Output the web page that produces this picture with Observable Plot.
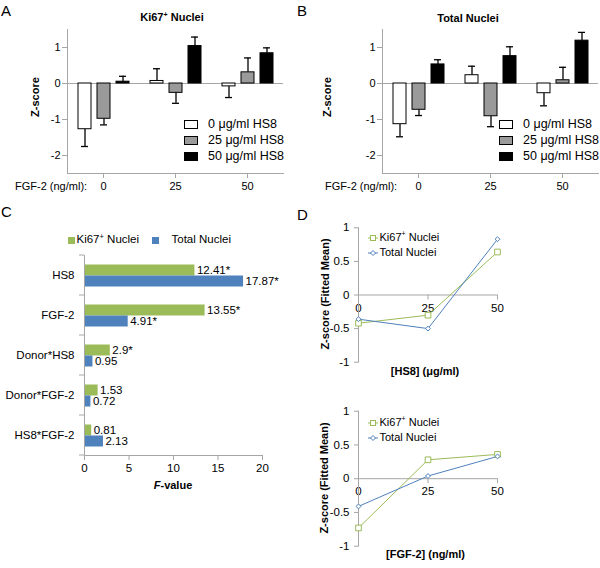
<!DOCTYPE html>
<html><head><meta charset="utf-8">
<script src="https://cdn.jsdelivr.net/npm/d3@7"></script>
<script src="https://cdn.jsdelivr.net/npm/@observablehq/plot@0.6"></script>
<style>
body{margin:0;background:#fff;font-family:"Liberation Sans",Arial,sans-serif;}
#root{position:relative;width:600px;height:568px;overflow:hidden;background:#fff;}
.lbl{position:absolute;white-space:nowrap;font-size:11px;color:#000;line-height:1;}
.panel{position:absolute;}
.panel svg text{fill:#000;}
sup{font-size:65%;vertical-align:baseline;position:relative;top:-0.55em;}
</style></head><body><div id="root"></div>
<script>
// ---------- DATA ----------
const fgfGroups = ["0", "25", "50"];           // FGF-2 (ng/ml)
const hs8Series = ["0", "25", "50"];           // HS8 (µg/ml)
const hs8Names = ["0 μg/ml HS8", "25 μg/ml HS8", "50 μg/ml HS8"];
const abTicks = [-2, -1, 0, 1];

// Panel A: Ki67+ nuclei z-scores, per HS8 level, across FGF-2 groups
const kiHs0 = [-1.27, 0.07, -0.08];
const kiHs25 = [-0.98, -0.26, 0.31];
const kiHs50 = [0.05, 1.04, 0.84];
const kiErrHs0 = [0.48, 0.34, 0.31];
const kiErrHs25 = [0.17, 0.29, 0.40];
const kiErrHs50 = [0.15, 0.25, 0.15];

// Panel B: Total nuclei z-scores
const totHs0 = [-1.13, 0.23, -0.27];
const totHs25 = [-0.73, -0.91, 0.09];
const totHs50 = [0.53, 0.76, 1.19];
const totErrHs0 = [0.35, 0.25, 0.35];
const totErrHs25 = [0.16, 0.29, 0.36];
const totErrHs50 = [0.13, 0.26, 0.23];

// Panel C: F-values
const cTerms = ["HS8", "FGF-2", "Donor*HS8", "Donor*FGF-2", "HS8*FGF-2"];
const cSeries = ["Ki67+ Nuclei", "Total Nuclei"];
const cKi = [12.41, 13.55, 2.9, 1.53, 0.81];
const cTot = [17.87, 4.91, 0.95, 0.72, 2.13];
const cKiSig = [true, true, true, false, false];
const cTotSig = [true, true, false, false, false];
const cTicks = [0, 5, 10, 15, 20];

// Panel D: fitted means
const dLevels = [0, 25, 50];
const dTicksY = [-1, -0.5, 0, 0.5, 1];
const dHs8Ki = [-0.42, -0.30, 0.64];
const dHs8Tot = [-0.36, -0.50, 0.83];
const dFgfKi = [-0.73, 0.28, 0.36];
const dFgfTot = [-0.41, 0.04, 0.33];

// ---------- STYLE ----------
const GREEN = "#9bbb59", BLUE = "#4f81bd", GRAY = "#a6a6a6";
const FONT = "'Liberation Sans', Arial, sans-serif";
const hs8Fills = ["#ffffff", "#9a9a9a", "#000000"];
const root = document.getElementById("root");

function mount(node, left, top, w, h) {
  const d = document.createElement("div");
  d.className = "panel";
  d.style.left = left + "px"; d.style.top = top + "px";
  d.style.width = w + "px"; d.style.height = h + "px";
  d.appendChild(node); root.appendChild(d);
}
function label(html, x, y, o = {}) {
  const d = document.createElement("div");
  d.className = "lbl";
  d.innerHTML = html;
  d.style.left = x + "px"; d.style.top = y + "px";
  d.style.fontSize = (o.size || 11) + "px";
  if (o.bold) d.style.fontWeight = "bold";
  const tx = o.anchor === "middle" ? "-50%" : o.anchor === "end" ? "-100%" : "0";
  d.style.transform = `translate(${tx},-50%)` + (o.rotate ? " rotate(-90deg)" : "");
  root.appendChild(d);
}

// ---------- PANELS A & B ----------
function abRows(means, errs) {
  const out = [];
  hs8Series.forEach((s, si) => fgfGroups.forEach((g, gi) => {
    const v = means[si][gi], e = errs[si][gi];
    out.push({fgf: g, hs8: s, v, end: v + (v >= 0 ? e : -e)});
  }));
  return out;
}
function barPanel(rows, marginLeft, marginRight) {
  return Plot.plot({
    width: 300, height: 200, marginLeft, marginRight, marginTop: 29, marginBottom: 27,
    style: {fontFamily: FONT, fontSize: "11px", color: GRAY, background: "transparent", overflow: "visible"},
    fx: {domain: fgfGroups, padding: 0, axis: null},
    x: {domain: hs8Series, paddingInner: 0.316, paddingOuter: 0.55, axis: null},
    y: {domain: [-2.5, 1.5], axis: null},
    color: {domain: hs8Series, range: hs8Fills},
    marks: [
      Plot.frame({anchor: "bottom", stroke: GRAY}),
      Plot.ruleY([0], {stroke: GRAY, strokeWidth: 1.2}),
      Plot.ruleX(rows, {fx: "fgf", x: "hs8", y1: "v", y2: "end", stroke: "#000", strokeWidth: 1.3}),
      Plot.tickY(rows, {fx: "fgf", x: "hs8", y: "end", stroke: "#000", strokeWidth: 1.3, insetLeft: 3, insetRight: 3}),
      Plot.barY(rows, {fx: "fgf", x: "hs8", y1: () => 0, y2: "v", fill: "hs8", stroke: "#000", strokeWidth: 1}),
      Plot.frame({anchor: "left", facetAnchor: "left", stroke: GRAY}),
      Plot.axisY({ticks: abTicks, tickSize: 5, tickPadding: 2, tickFormat: d => String(d), stroke: GRAY, label: null}),
      Plot.axisFx({anchor: "bottom", tickSize: 5, tickPadding: 4, stroke: GRAY, label: null})
    ]
  });
}
const rowsA = abRows([kiHs0, kiHs25, kiHs50], [kiErrHs0, kiErrHs25, kiErrHs50]);
const rowsB = abRows([totHs0, totHs25, totHs50], [totErrHs0, totErrHs25, totErrHs50]);
mount(barPanel(rowsA, 67, 17), 0, 0, 300, 200);
mount(barPanel(rowsB, 82, 2), 300, 0, 300, 200);

function abLegend(boxX, textX) {
  hs8Names.forEach((n, i) => {
    const y = 124 + i * 16;
    const b = document.createElement("div");
    b.style.cssText = `position:absolute;left:${boxX}px;top:${y - 4}px;width:12px;height:7px;border:1px solid #000;background:${hs8Fills[i]};`;
    root.appendChild(b);
    label(n, textX, y, {size: 12.5});
  });
}
abLegend(184, 208);
abLegend(499, 523);

label("Ki67<sup>+</sup> Nuclei", 172, 18, {bold: true, anchor: "middle", size: 11});
label("Total Nuclei", 468, 18, {bold: true, anchor: "middle", size: 11});
label("Z-score", 35, 97, {bold: true, anchor: "middle", rotate: true});
label("Z-score", 327, 97, {bold: true, anchor: "middle", rotate: true});
label("FGF-2 (ng/ml):", 15, 186);
label("FGF-2 (ng/ml):", 325, 186);

// ---------- PANEL C ----------
const cRows = [];
cTerms.forEach((t, i) => {
  cRows.push({term: t, series: cSeries[0], value: cKi[i], label: String(cKi[i]) + (cKiSig[i] ? "*" : "")});
  cRows.push({term: t, series: cSeries[1], value: cTot[i], label: String(cTot[i]) + (cTotSig[i] ? "*" : "")});
});
const chartC = Plot.plot({
  width: 300, height: 250, marginLeft: 84, marginRight: 38, marginTop: 9.5, marginBottom: 39,
  style: {fontFamily: FONT, fontSize: "11px", color: GRAY, background: "transparent", overflow: "visible"},
  fy: {domain: cTerms, padding: 0, axis: null},
  y: {domain: cSeries, paddingInner: 0, paddingOuter: 0.77, axis: null},
  x: {domain: [0, 20], axis: null},
  color: {domain: cSeries, range: [GREEN, BLUE]},
  marks: [
    Plot.barX(cRows, {fy: "term", y: "series", x1: () => 0, x2: "value", fill: "series"}),
    Plot.text(cRows, {fy: "term", y: "series", x: "value", text: "label", textAnchor: "start", dx: 2, fill: "#000", fontSize: 11.5}),
    Plot.frame({anchor: "left", stroke: GRAY}),
    Plot.frame({anchor: "bottom", facetAnchor: "bottom", stroke: GRAY}),
    Plot.axisX({ticks: cTicks, tickSize: 5, tickPadding: 3, tickFormat: d => String(d), stroke: GRAY, label: null, fontSize: 11.5}),
    Plot.axisFy({anchor: "left", tickSize: 0, tickPadding: 10, label: null, fontSize: 11.5})
  ]
});
// band-edge separator ticks on the category axis, from the plot's own scales
(function () {
  const fy = chartC.scale("fy"), xs = chartC.scale("x");
  const edges = fy.domain.map(t => fy.apply(t));
  edges.push(fy.apply(fy.domain[fy.domain.length - 1]) + fy.bandwidth);
  const x0 = xs.apply(0);
  d3.select(chartC).append("g").selectAll("line").data(edges).join("line")
    .attr("x1", x0 - 5).attr("x2", x0).attr("y1", d => d).attr("y2", d => d)
    .attr("stroke", GRAY);
})();
mount(chartC, 0, 245, 300, 250);

// C legend
(function () {
  const items = [[68, 76.5, GREEN, "Ki67<sup>+</sup> Nuclei"], [151.5, 171.5, BLUE, "Total Nuclei"]];
  items.forEach(([bx, tx, c, t]) => {
    const b = document.createElement("div");
    b.style.cssText = `position:absolute;left:${bx}px;top:236.5px;width:7px;height:7px;background:${c};`;
    root.appendChild(b);
    label(t, tx, 240, {size: 11.5});
  });
})();
label("<i>F</i>-value", 173, 485, {bold: true, anchor: "middle"});

// ---------- PANEL D ----------
function linePanel(ki, tot, top, mt, mb) {
  const kiRows = dLevels.map((l, i) => ({x: l, v: ki[i]}));
  const totRows = dLevels.map((l, i) => ({x: l, v: tot[i]}));
  const chart = Plot.plot({
    width: 300, height: 165, marginLeft: 58, marginRight: 103, marginTop: mt, marginBottom: mb,
    style: {fontFamily: FONT, fontSize: "11px", color: GRAY, background: "transparent", overflow: "visible"},
    x: {domain: [0, 50], axis: null},
    y: {domain: [-1, 1], axis: null},
    marks: [
      Plot.ruleY([0], {stroke: GRAY}),
      Plot.ruleX(dLevels, {x: d => d, y1: 0, y2: 0, insetBottom: -5, stroke: GRAY}),
      Plot.text(dLevels, {x: d => d, y: 0, text: d => String(d), dy: 13, fill: "#000", fontSize: 11.5}),
      Plot.frame({anchor: "left", stroke: GRAY}),
      Plot.axisY({ticks: dTicksY, tickSize: 4, tickPadding: 5, tickFormat: d => String(d), stroke: GRAY, label: null, fontSize: 11.5}),
      Plot.line(kiRows, {x: "x", y: "v", stroke: GREEN, strokeWidth: 1}),
      Plot.line(totRows, {x: "x", y: "v", stroke: BLUE, strokeWidth: 1}),
      Plot.dot(kiRows, {x: "x", y: "v", symbol: "square", r: 3.2, fill: "white", stroke: GREEN, strokeWidth: 1}),
      Plot.dot(totRows, {x: "x", y: "v", symbol: "diamond2", r: 2.2, fill: "white", stroke: BLUE, strokeWidth: 1})
    ]
  });
  mount(chart, 300, top, 300, 165);
}
linePanel(dHs8Ki, dHs8Tot, 215, 12.3, 18.3);
linePanel(dFgfKi, dFgfTot, 400, 10.7, 19.3);

function dLegend(y1) {
  const s = `<svg width="120" height="32" style="position:absolute;left:360px;top:${y1 - 8}px;overflow:visible" font-family="${FONT}" font-size="11">
    <line x1="8" x2="18" y1="8" y2="8" stroke="${GREEN}"/>
    <rect x="10.5" y="5.5" width="5" height="5" fill="#fff" stroke="${GREEN}"/>
    <text x="19.5" y="8" dominant-baseline="middle" fill="#000">Ki67<tspan baseline-shift="super" font-size="7">+</tspan> Nuclei</text>
    <line x1="8" x2="18" y1="23" y2="23" stroke="${BLUE}"/>
    <polygon points="13,20.5 15.5,23 13,25.5 10.5,23" fill="#fff" stroke="${BLUE}"/>
    <text x="19.5" y="23" dominant-baseline="middle" fill="#000">Total Nuclei</text>
  </svg>`;
  const d = document.createElement("div");
  d.innerHTML = s;
  root.appendChild(d.firstElementChild);
}
dLegend(238.3);
dLegend(422.7);

label("Z-score (Fitted Mean)", 325, 294, {bold: true, anchor: "middle", rotate: true});
label("Z-score (Fitted Mean)", 324, 478, {bold: true, anchor: "middle", rotate: true});
label("[HS8] (μg/ml)", 425, 371, {bold: true, anchor: "middle"});
label("[FGF-2] (ng/ml)", 425.5, 554, {bold: true, anchor: "middle"});

// panel letters
label("A", 1, 10, {size: 15});
label("B", 297, 10, {size: 15});
label("C", 1, 211, {size: 15});
label("D", 297, 214, {size: 15});
</script></body></html>
